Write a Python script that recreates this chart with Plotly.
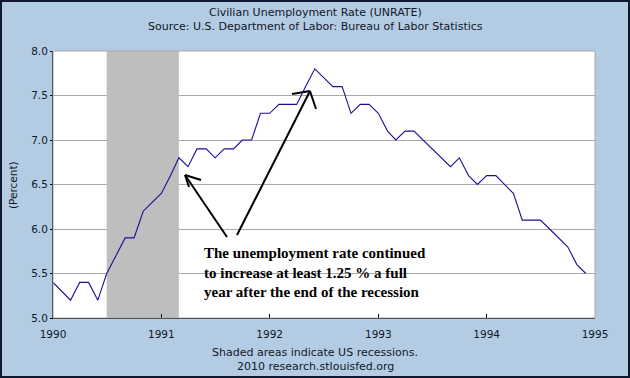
import plotly.graph_objects as go
import pandas as pd

# Monthly civilian unemployment rate, 1990-01 .. 1994-12
dates = pd.date_range("1990-01-01", "1994-12-01", freq="MS")
rate_1990 = [5.4, 5.3, 5.2, 5.4, 5.4, 5.2, 5.5, 5.7, 5.9, 5.9, 6.2, 6.3]
rate_1991 = [6.4, 6.6, 6.8, 6.7, 6.9, 6.9, 6.8, 6.9, 6.9, 7.0, 7.0, 7.3]
rate_1992 = [7.3, 7.4, 7.4, 7.4, 7.6, 7.8, 7.7, 7.6, 7.6, 7.3, 7.4, 7.4]
rate_1993 = [7.3, 7.1, 7.0, 7.1, 7.1, 7.0, 6.9, 6.8, 6.7, 6.8, 6.6, 6.5]
rate_1994 = [6.6, 6.6, 6.5, 6.4, 6.1, 6.1, 6.1, 6.0, 5.9, 5.8, 5.6, 5.5]
rates = rate_1990 + rate_1991 + rate_1992 + rate_1993 + rate_1994

recession_start = "1990-07-01"
recession_end = "1991-03-01"

x_ticks = ["1990-01-01", "1991-01-01", "1992-01-01", "1993-01-01", "1994-01-01", "1995-01-01"]
x_tick_labels = ["1990", "1991", "1992", "1993", "1994", "1995"]
y_ticks = [5.0, 5.5, 6.0, 6.5, 7.0, 7.5, 8.0]
y_min, y_max = 5.0, 8.0

W, H = 630, 378
ML, MR, MT, MB = 53, 35, 51, 60
PW, PH = W - ML - MR, H - MT - MB

def px(x):
    return (x - ML) / PW

def py(y):
    return (H - MB - y) / PH

BG = "#B4CCE3"
TXT = "#101828"
SANS = "DejaVu Sans"

fig = go.Figure()
# recession shading (drawn as a trace so it sits above the grid)
fig.add_trace(go.Scatter(
    x=[recession_start, recession_end, recession_end, recession_start, recession_start],
    y=[y_min, y_min, y_max, y_max, y_min],
    fill="toself", fillcolor="#BEBEBE", mode="none",
    hoverinfo="skip", showlegend=False))
fig.add_trace(go.Scatter(x=dates, y=rates, mode="lines",
                         line=dict(color="#1a0f99", width=1.1),
                         hoverinfo="skip", showlegend=False))

shapes = []
shapes.append(dict(type="rect", xref="paper", yref="paper", x0=0, y0=0, x1=1, y1=1,
                   line=dict(color="#A8A8A8", width=1), layer="above"))
arrow_lines = [
    ((227, 237), (185, 175)), ((185, 175), (201, 180)), ((185, 175), (189, 187)),
    ((237, 235), (310, 91)), ((310, 91), (292, 94)), ((310, 91), (316, 109)),
]
for (xa, ya), (xb, yb) in arrow_lines:
    shapes.append(dict(type="line", xref="paper", yref="paper",
                       x0=px(xa), y0=py(ya), x1=px(xb), y1=py(yb),
                       line=dict(color="black", width=2), layer="above"))
shapes.append(dict(type="rect", xref="paper", yref="paper",
                   x0=px(1), y0=py(H - 1), x1=px(W - 1), y1=py(1),
                   line=dict(color="#101830", width=2), layer="above"))
for s in shapes:
    fig.add_shape(**s)

annotations = [
    dict(text="Civilian Unemployment Rate (UNRATE)", x=px(315), y=py(12)),
    dict(text="Source: U.S. Department of Labor: Bureau of Labor Statistics", x=px(315), y=py(26)),
    dict(text="Shaded areas indicate US recessions.", x=px(315), y=py(352)),
    dict(text="2010 research.stlouisfed.org", x=px(315), y=py(366)),
]
for a in annotations:
    fig.add_annotation(xref="paper", yref="paper", showarrow=False,
                       xanchor="center", yanchor="middle",
                       font=dict(family=SANS, size=11, color=TXT), **a)
fig.add_annotation(text="(Percent)", xref="paper", yref="paper", x=px(13), y=py(185),
                   textangle=-90, showarrow=False, xanchor="center", yanchor="middle",
                   font=dict(family=SANS, size=10.5, color=TXT))
fig.add_annotation(
    text="The unemployment rate continued<br>to increase at least 1.25 % a full<br>year after the end of the recession",
    xref="paper", yref="paper", x=px(202), y=py(243), xanchor="left", yanchor="top",
    align="left", showarrow=False,
    font=dict(family="Liberation Serif", size=15, color="black", weight="bold"))

fig.update_layout(
    width=W, height=H,
    margin=dict(l=ML, r=MR, t=MT, b=MB, pad=0),
    paper_bgcolor=BG, plot_bgcolor="white",
    xaxis=dict(range=["1990-01-01", "1995-01-01"], tickmode="array",
               tickvals=x_ticks, ticktext=x_tick_labels,
               ticks="inside", ticklen=4, tickcolor="black",
               ticklabelstandoff=6,
               showgrid=False, zeroline=False,
               showline=True, linecolor="black", linewidth=1,
               tickfont=dict(family=SANS, size=10.5, color=TXT)),
    yaxis=dict(range=[y_min, y_max], tickmode="array", tickvals=y_ticks,
               ticktext=[f"{v:.1f}" for v in y_ticks],
               ticks="outside", ticklen=2, tickcolor="black",
               showgrid=True, gridcolor="#A8A8A8", gridwidth=1, zeroline=False,
               showline=True, linecolor="black", linewidth=1,
               tickfont=dict(family=SANS, size=10.5, color=TXT)),
)

fig.write_html("out.html", config={"displayModeBar": False},
               post_script="document.body.style.margin='0';document.body.style.overflow='hidden';")
